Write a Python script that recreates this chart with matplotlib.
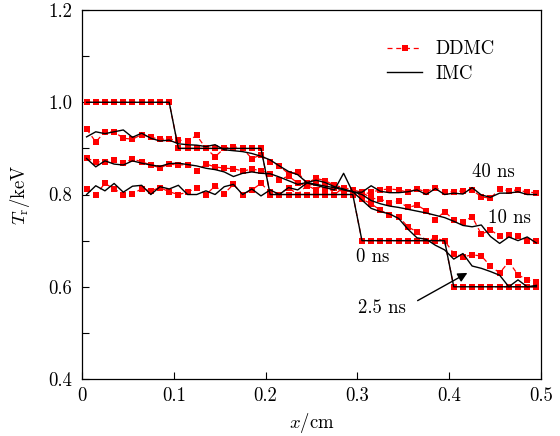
import numpy as np
import matplotlib
matplotlib.use("Agg")
import matplotlib.pyplot as plt

plt.rcParams['font.family'] = 'serif'
plt.rcParams['font.serif'] = ['cmr10', 'DejaVu Serif']
plt.rcParams['mathtext.fontset'] = 'cm'
plt.rcParams['axes.formatter.use_mathtext'] = True

# cell centres (cm)
x = np.round(np.arange(50) * 0.01 + 0.005, 3)

# 0 ns (initial step profile)
imc_0 = [1.0]*10 + [0.9]*10 + [0.8]*10 + [0.7]*10 + [0.6]*10
ddmc_0 = [1.0]*10 + [0.9]*10 + [0.8]*10 + [0.7]*10 + [0.6]*10

imc_25 = [0.925, 0.936, 0.932, 0.936, 0.940, 0.924, 0.933, 0.922, 0.916, 0.918,
          0.910, 0.908, 0.907, 0.904, 0.908, 0.897, 0.895, 0.893, 0.889, 0.883,
          0.875, 0.862, 0.850, 0.843, 0.826, 0.831, 0.826, 0.817, 0.812, 0.806,
          0.788, 0.770, 0.763, 0.758, 0.748, 0.725, 0.706, 0.703, 0.690, 0.680,
          0.660, 0.672, 0.645, 0.640, 0.633, 0.625, 0.600, 0.615, 0.600, 0.603]
ddmc_25 = [0.942, 0.914, 0.936, 0.936, 0.922, 0.920, 0.930, 0.924, 0.920, 0.920,
           0.918, 0.916, 0.928, 0.900, 0.882, 0.900, 0.904, 0.900, 0.878, 0.886,
           0.870, 0.862, 0.845, 0.848, 0.825, 0.835, 0.830, 0.820, 0.815, 0.810,
           0.790, 0.780, 0.766, 0.756, 0.752, 0.730, 0.719, 0.700, 0.705, 0.700,
           0.672, 0.665, 0.669, 0.667, 0.645, 0.630, 0.654, 0.626, 0.615, 0.610]

imc_10 = [0.878, 0.860, 0.873, 0.866, 0.864, 0.873, 0.868, 0.864, 0.861, 0.867,
          0.868, 0.865, 0.862, 0.857, 0.854, 0.849, 0.839, 0.846, 0.849, 0.846,
          0.845, 0.838, 0.830, 0.822, 0.826, 0.822, 0.818, 0.815, 0.810, 0.806,
          0.800, 0.787, 0.780, 0.775, 0.772, 0.768, 0.764, 0.760, 0.755, 0.750,
          0.742, 0.733, 0.730, 0.734, 0.709, 0.694, 0.708, 0.700, 0.708, 0.695]
ddmc_10 = [0.879, 0.871, 0.871, 0.875, 0.868, 0.877, 0.871, 0.864, 0.858, 0.866,
           0.864, 0.865, 0.851, 0.866, 0.860, 0.857, 0.856, 0.851, 0.855, 0.852,
           0.845, 0.832, 0.840, 0.825, 0.818, 0.825, 0.810, 0.815, 0.805, 0.810,
           0.805, 0.792, 0.790, 0.782, 0.785, 0.772, 0.777, 0.765, 0.745, 0.763,
           0.745, 0.740, 0.752, 0.714, 0.723, 0.710, 0.712, 0.710, 0.700, 0.700]

imc_40 = [0.800, 0.819, 0.808, 0.824, 0.805, 0.818, 0.820, 0.800, 0.817, 0.812,
          0.820, 0.800, 0.800, 0.808, 0.800, 0.817, 0.822, 0.800, 0.812, 0.797,
          0.810, 0.800, 0.815, 0.810, 0.825, 0.820, 0.815, 0.810, 0.846, 0.805,
          0.805, 0.819, 0.807, 0.804, 0.804, 0.806, 0.810, 0.800, 0.813, 0.800,
          0.803, 0.801, 0.815, 0.799, 0.794, 0.803, 0.803, 0.806, 0.800, 0.800]
ddmc_40 = [0.812, 0.800, 0.824, 0.812, 0.800, 0.802, 0.812, 0.808, 0.815, 0.806,
           0.800, 0.805, 0.815, 0.799, 0.819, 0.802, 0.822, 0.800, 0.810, 0.824,
           0.805, 0.800, 0.815, 0.800, 0.820, 0.810, 0.825, 0.800, 0.815, 0.800,
           0.800, 0.805, 0.810, 0.812, 0.810, 0.805, 0.812, 0.806, 0.815, 0.806,
           0.806, 0.808, 0.810, 0.795, 0.792, 0.812, 0.808, 0.810, 0.805, 0.804]

ddmc_series = [ddmc_0, ddmc_25, ddmc_10, ddmc_40]
imc_series = [imc_0, imc_25, imc_10, imc_40]

xticks = [0, 0.1, 0.2, 0.3, 0.4, 0.5]
xticklabels = ['0', '0.1', '0.2', '0.3', '0.4', '0.5']
yticks = [0.4, 0.5, 0.6, 0.7, 0.8, 0.9, 1.0, 1.1, 1.2]
yticklabels = ['0.4', '', '0.6', '', '0.8', '', '1.0', '', '1.2']

fig = plt.figure(figsize=(5.6, 4.36), dpi=100)
ax = fig.add_axes([0.1464, 0.1307, 0.8196, 0.8463])

for i, d in enumerate(ddmc_series):
    ax.plot(x, d, color='#ff0000', linestyle=(0, (4, 3)), linewidth=0.9,
            marker='s', markersize=4.5, markeredgewidth=0,
            label='DDMC' if i == 0 else None, zorder=2)
for i, m in enumerate(imc_series):
    ax.plot(x, m, color='black', linewidth=1.0,
            label='IMC' if i == 0 else None, zorder=3)

ax.set_xlim(0, 0.5)
ax.set_ylim(0.4, 1.2)
ax.set_xticks(xticks)
ax.set_xticklabels(xticklabels)
ax.set_yticks(yticks)
ax.set_yticklabels(yticklabels)
ax.tick_params(direction='in', length=5, width=0.8, labelsize=13.5)
ax.tick_params(axis='x', pad=6)
ax.tick_params(axis='y', pad=7)
for s in ax.spines.values():
    s.set_linewidth(0.9)

ax.set_xlabel(r'$x$/cm', fontsize=13.5, labelpad=4)
ax.set_ylabel(r'$T_\mathrm{r}$/keV', fontsize=13.5, labelpad=12)

fs = 13.5
ax.text(0.425, 0.849, '40 ns', fontsize=fs, va='center', ha='left')
ax.text(0.442, 0.749, '10 ns', fontsize=fs, va='center', ha='left')
ax.text(0.298, 0.665, '0 ns', fontsize=fs, va='center', ha='left')
ax.annotate('', xy=(0.4225, 0.633), xytext=(0.363, 0.567),
            arrowprops=dict(arrowstyle='-|>', color='black', lw=1.0,
                            mutation_scale=14))
ax.text(0.301, 0.553, '2.5 ns', fontsize=fs, va='center', ha='left')

leg = ax.legend(loc='upper left', bbox_to_anchor=(0.656, 0.928), frameon=False,
                fontsize=13.5, handlelength=1.9, handletextpad=0.7,
                labelspacing=0.35, borderaxespad=0, borderpad=0.2)

fig.savefig('out.png', dpi=100)
